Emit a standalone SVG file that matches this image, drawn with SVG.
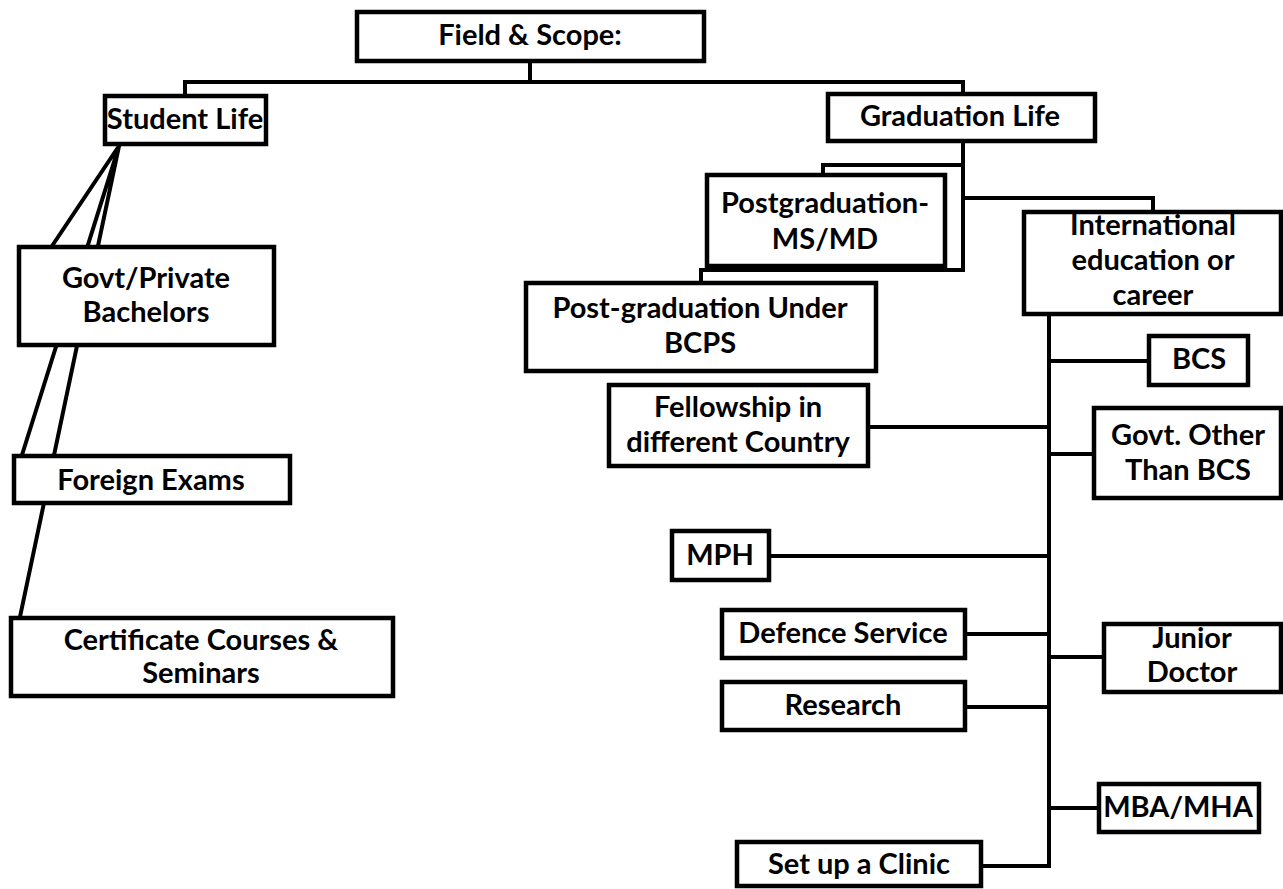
<svg xmlns="http://www.w3.org/2000/svg" width="1283" height="889" viewBox="0 0 1283 889">
  <style>
    .box { fill: #ffffff; stroke: #000000; stroke-width: 4.5; }
    .link { fill: none; stroke: #000000; stroke-width: 4; stroke-linejoin: miter; stroke-linecap: square; }
    .label { font-family: "Lato", "Liberation Sans", sans-serif; font-weight: bold; font-size: 29px; fill: #000000; text-anchor: middle; }
  </style>
  <rect width="1283" height="889" fill="#ffffff"/>

  <!-- connectors, drawn beneath the boxes -->
  <g id="connectors" class="link">
    <!-- root to the two branches -->
    <path d="M530 62 V82 M185 82 H963 M185 82 V96 M963 82 V94"/>
    <!-- student life fan -->
    <path d="M119 146 L52 246 M119 146 L22 455 M119 146 L20 617"/>
    <!-- graduation life branch -->
    <path d="M963 143 V270 H701 V282"/>
    <path d="M963 165 H823 V175"/>
    <path d="M963 198 H1153 V211"/>
    <!-- career trunk -->
    <path d="M1049 315 V866 H983"/>
    <path d="M1049 361 H1149"/>
    <path d="M870 427 H1049"/>
    <path d="M1049 454 H1094"/>
    <path d="M771 556 H1049"/>
    <path d="M967 634 H1049"/>
    <path d="M1049 657 H1102"/>
    <path d="M967 707 H1049"/>
    <path d="M1049 808 H1097"/>
  </g>

  <g id="field-scope">
    <rect class="box" x="357" y="12" width="347" height="49"/>
    <text class="label" x="530" y="45">Field &amp; Scope:</text>
  </g>

  <g id="student-life">
    <rect class="box" x="105" y="96" width="161" height="48"/>
    <text class="label" x="185" y="129">Student Life</text>
  </g>

  <g id="govt-private-bachelors">
    <rect class="box" x="19" y="247" width="255" height="98"/>
    <text class="label" x="146" y="288">Govt/Private</text>
    <text class="label" x="146" y="322">Bachelors</text>
  </g>

  <g id="foreign-exams">
    <rect class="box" x="14" y="456" width="276" height="47"/>
    <text class="label" x="151" y="490">Foreign Exams</text>
  </g>

  <g id="certificate-courses">
    <rect class="box" x="11" y="618" width="382" height="78"/>
    <text class="label" x="201" y="650">Certificate Courses &amp;</text>
    <text class="label" x="201" y="683">Seminars</text>
  </g>

  <g id="graduation-life">
    <rect class="box" x="828" y="94" width="267" height="47"/>
    <text class="label" x="960" y="126">Graduation Life</text>
  </g>

  <g id="postgraduation-ms-md">
    <rect class="box" x="707" y="175" width="238" height="91"/>
    <text class="label" x="825" y="213">Postgraduation-</text>
    <text class="label" x="825" y="249">MS/MD</text>
  </g>

  <g id="postgraduation-bcps">
    <rect class="box" x="526" y="283" width="350" height="88"/>
    <text class="label" x="700" y="318">Post-graduation Under</text>
    <text class="label" x="700" y="353">BCPS</text>
  </g>

  <g id="international-career">
    <rect class="box" x="1024" y="212" width="257" height="102"/>
    <text class="label" x="1153" y="235">International</text>
    <text class="label" x="1153" y="270">education or</text>
    <text class="label" x="1153" y="305">career</text>
  </g>

  <g id="bcs">
    <rect class="box" x="1149" y="336" width="99" height="49"/>
    <text class="label" x="1199" y="369">BCS</text>
  </g>

  <g id="fellowship">
    <rect class="box" x="609" y="385" width="259" height="81"/>
    <text class="label" x="738" y="417">Fellowship in</text>
    <text class="label" x="738" y="452">different Country</text>
  </g>

  <g id="govt-other">
    <rect class="box" x="1094" y="408" width="187" height="90"/>
    <text class="label" x="1188" y="445">Govt. Other</text>
    <text class="label" x="1188" y="480">Than BCS</text>
  </g>

  <g id="mph">
    <rect class="box" x="672" y="531" width="97" height="49"/>
    <text class="label" x="720" y="565">MPH</text>
  </g>

  <g id="defence-service">
    <rect class="box" x="722" y="610" width="243" height="48"/>
    <text class="label" x="843" y="643">Defence Service</text>
  </g>

  <g id="junior-doctor">
    <rect class="box" x="1104" y="624" width="177" height="68"/>
    <text class="label" x="1192" y="648">Junior</text>
    <text class="label" x="1192" y="682">Doctor</text>
  </g>

  <g id="research">
    <rect class="box" x="722" y="682" width="243" height="48"/>
    <text class="label" x="843" y="715">Research</text>
  </g>

  <g id="mba-mha">
    <rect class="box" x="1099" y="784" width="160" height="48"/>
    <text class="label" x="1178" y="817">MBA/MHA</text>
  </g>

  <g id="set-up-clinic">
    <rect class="box" x="737" y="842" width="244" height="44"/>
    <text class="label" x="859" y="874">Set up a Clinic</text>
  </g>
</svg>
